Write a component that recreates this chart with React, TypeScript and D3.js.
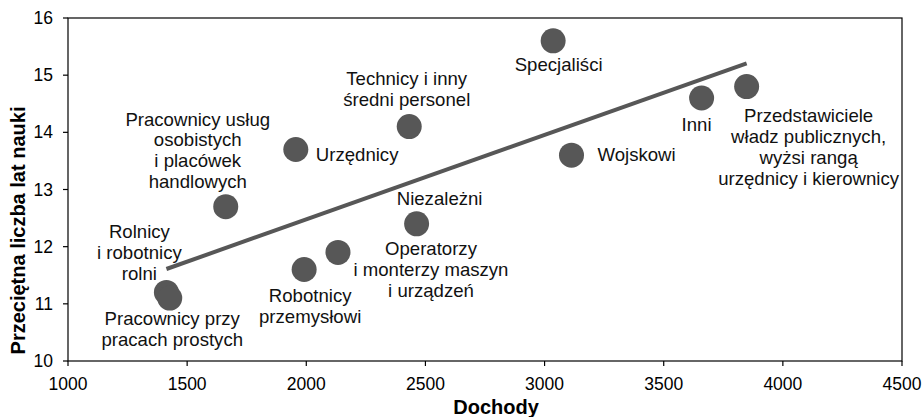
import * as d3 from 'd3';

const categories = [
  'Rolnicy i robotnicy rolni',
  'Pracownicy przy pracach prostych',
  'Pracownicy usług osobistych i placówek handlowych',
  'Urzędnicy',
  'Robotnicy przemysłowi',
  'Operatorzy i monterzy maszyn i urządzeń',
  'Niezależni',
  'Technicy i inny średni personel',
  'Specjaliści',
  'Wojskowi',
  'Inni',
  'Przedstawiciele władz publicznych, wyżsi rangą urzędnicy i kierownicy',
];
const income = [1413, 1427, 1662, 1956, 1991, 2133, 2463, 2432, 3036, 3113, 3659, 3848];
const schoolYears = [11.2, 11.1, 12.7, 13.7, 11.6, 11.9, 12.4, 14.1, 15.6, 13.6, 14.6, 14.8];

const xTicks = [1000, 1500, 2000, 2500, 3000, 3500, 4000, 4500];
const yTicks = [10, 11, 12, 13, 14, 15, 16];

// label lines + placement relative to the point (px)
const labels = [
  { lines: ['Rolnicy', 'i robotnicy', 'rolni'], dx: -27, dy: -54, anchor: 'middle' },
  { lines: ['Pracownicy przy', 'pracach prostych'], dx: 2.5, dy: 27, anchor: 'middle' },
  { lines: ['Pracownicy usług', 'osobistych', 'i placówek', 'handlowych'], dx: -28, dy: -81, anchor: 'middle' },
  { lines: ['Urzędnicy'], dx: 20, dy: 11.5, anchor: 'start' },
  { lines: ['Robotnicy', 'przemysłowi'], dx: 6, dy: 32.5, anchor: 'middle' },
  { lines: ['Operatorzy', 'i monterzy maszyn', 'i urządzeń'], dx: 93, dy: 3, anchor: 'middle' },
  { lines: ['Niezależni'], dx: 23, dy: -19, anchor: 'middle' },
  { lines: ['Technicy i inny', 'średni personel'], dx: -2.5, dy: -41.5, anchor: 'middle' },
  { lines: ['Specjaliści'], dx: 5.5, dy: 30, anchor: 'middle' },
  { lines: ['Wojskowi'], dx: 26, dy: 6, anchor: 'start' },
  { lines: ['Inni'], dx: -5, dy: 33, anchor: 'middle' },
  { lines: ['Przedstawiciele', 'władz publicznych,', 'wyżsi rangą', 'urzędnicy i kierownicy'], dx: 62, dy: 35.5, anchor: 'middle' },
];

const width = 924;
const height = 417;
const margin = { top: 18, right: 22, bottom: 56, left: 68 };
const font = 'Arial, "Liberation Sans", sans-serif';
const grey = '#575757';

export default function App() {
  const x = d3.scaleLinear().domain([1000, 4500]).range([margin.left, width - margin.right]);
  const y = d3.scaleLinear().domain([10, 16]).range([height - margin.bottom, margin.top]);

  // least squares trend line
  const mx = d3.mean(income)!;
  const my = d3.mean(schoolYears)!;
  const sxy = d3.sum(income, (v, i) => (v - mx) * (schoolYears[i] - my));
  const sxx = d3.sum(income, (v) => (v - mx) ** 2);
  const slope = sxy / sxx;
  const [x0, x1] = d3.extent(income) as [number, number];
  const trend = d3.line<number>().x((v) => x(v)).y((v) => y(my + slope * (v - mx)))([x0, x1]) as string;

  const left = margin.left;
  const right = width - margin.right;
  const top = margin.top;
  const bottom = height - margin.bottom;

  return (
    <svg width={width} height={height} style={{ position: 'absolute', left: 0, top: 0 }} fontFamily={font}>
      <rect x={0} y={0} width={width} height={height} fill="#fff" />
      <rect x={left} y={top} width={right - left} height={bottom - top} fill="none" stroke="#000" strokeWidth={1.2} />

      {xTicks.map((t) => (
        <g key={t}>
          <line x1={x(t)} x2={x(t)} y1={bottom} y2={bottom + 5} stroke="#000" strokeWidth={1.2} />
          <text x={x(t)} y={bottom + 29} textAnchor="middle" fontSize={17.5}>{t}</text>
        </g>
      ))}
      {yTicks.map((t) => (
        <g key={t}>
          <line x1={left - 5} x2={left} y1={y(t)} y2={y(t)} stroke="#000" strokeWidth={1.2} />
          <text x={left - 15} y={y(t)} dy="0.35em" textAnchor="end" fontSize={17.5}>{t}</text>
        </g>
      ))}

      <path d={trend} fill="none" stroke={grey} strokeWidth={4} />

      {income.map((v, i) => (
        <circle key={categories[i]} cx={x(v)} cy={y(schoolYears[i])} r={12.5} fill={grey} />
      ))}

      {labels.map((l, i) => (
        <text key={i} x={x(income[i]) + l.dx} y={y(schoolYears[i]) + l.dy} textAnchor={l.anchor} fontSize={18.6} fill="#111">
          {l.lines.map((s, j) => (
            <tspan key={j} x={x(income[i]) + l.dx} dy={j === 0 ? 0 : 20.8}>{s}</tspan>
          ))}
        </text>
      ))}

      <text x={496} y={414} textAnchor="middle" fontSize={20} fontWeight="bold">Dochody</text>
      <text transform={`translate(24.5,230.5) rotate(-90)`} textAnchor="middle" fontSize={20} fontWeight="bold">
        Przeciętna liczba lat nauki
      </text>
    </svg>
  );
}
